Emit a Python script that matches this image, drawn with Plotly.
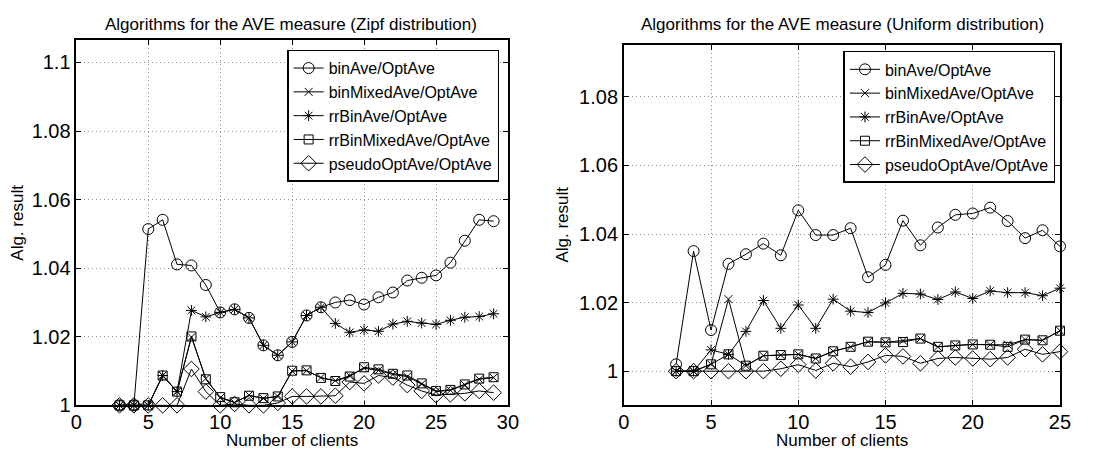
import plotly.graph_objects as go

W, H = 1107, 450

series_names = ["binAve/OptAve", "binMixedAve/OptAve", "rrBinAve/OptAve",
                "rrBinMixedAve/OptAve", "pseudoOptAve/OptAve"]

zipf_clients = [3, 4, 5, 6, 7, 8, 9, 10, 11, 12, 13, 14, 15, 16, 17, 18, 19, 20,
                21, 22, 23, 24, 25, 26, 27, 28, 29]
zipf_binAve = [1.000, 1.000, 1.0514, 1.0541, 1.0411, 1.0408, 1.0351, 1.0271, 1.0280,
               1.0255, 1.0175, 1.0146, 1.0185, 1.0262, 1.0286, 1.0300, 1.0307, 1.0294,
               1.0315, 1.0329, 1.0364, 1.0372, 1.0379, 1.0416, 1.0480, 1.0541, 1.0537]
zipf_binMixedAve = [1.0, 1.0, 1.0, 1.0087, 1.0040, 1.0199, 1.0078, 1.0022, 1.0008,
                    1.0030, 1.0020, 1.0026, 1.0100, 1.0101, 1.0081, 1.0072, 1.0086,
                    1.0108, 1.0102, 1.0090, 1.0084, 1.0062, 1.0040, 1.0044, 1.0060,
                    1.0076, 1.0081]
zipf_rrBinAve = [1.0, 1.0, 1.0, 1.0087, 1.0040, 1.0277, 1.0258, 1.0271, 1.0280, 1.0255,
                 1.0175, 1.0146, 1.0185, 1.0262, 1.0286, 1.0239, 1.0213, 1.0220, 1.0216,
                 1.0237, 1.0245, 1.0240, 1.0236, 1.0248, 1.0257, 1.0259, 1.0267]
zipf_rrBinMixedAve = [1.0, 1.0, 1.0, 1.0087, 1.0040, 1.0201, 1.0076, 1.0024, 1.0009,
                      1.0028, 1.0021, 1.0026, 1.0101, 1.0102, 1.0080, 1.0071, 1.0084,
                      1.0111, 1.0105, 1.0092, 1.0087, 1.0064, 1.0042, 1.0045, 1.0061,
                      1.0078, 1.0082]
zipf_pseudoOptAve = [1.0, 1.0, 1.0, 1.0, 1.0, 1.0106, 1.0040, 1.0, 1.0004, 1.0, 1.0,
                     1.0007, 1.0026, 1.0026, 1.0026, 1.0028, 1.0068, 1.0064, 1.0087,
                     1.0081, 1.0059, 1.0042, 1.0030, 1.0032, 1.0035, 1.0042, 1.0037]

unif_clients = [3, 4, 5, 6, 7, 8, 9, 10, 11, 12, 13, 14, 15, 16, 17, 18, 19, 20,
                21, 22, 23, 24, 25]
unif_binAve = [1.002, 1.035, 1.012, 1.0313, 1.0341, 1.0372, 1.0338, 1.0469, 1.0397,
               1.0397, 1.0417, 1.0274, 1.031, 1.0439, 1.0367, 1.0419, 1.0456, 1.046,
               1.0477, 1.0438, 1.0388, 1.0411, 1.0364]
unif_binMixedAve = [1.0, 1.0, 1.002, 1.021, 1.0016, 1.0045, 1.0047, 1.0049, 1.0037,
                    1.0058, 1.0071, 1.0086, 1.0084, 1.0089, 1.0095, 1.0071, 1.0075,
                    1.0078, 1.0077, 1.0077, 1.0092, 1.009, 1.0118]
unif_rrBinAve = [1.0, 1.0, 1.0062, 1.0049, 1.0116, 1.0206, 1.0125, 1.0193, 1.0125,
                 1.021, 1.0175, 1.0171, 1.0199, 1.0227, 1.0225, 1.0209, 1.0231, 1.0212,
                 1.0234, 1.0229, 1.0229, 1.022, 1.0242]
unif_rrBinMixedAve = [1.0, 1.0, 1.002, 1.0049, 1.0016, 1.0045, 1.0047, 1.0049, 1.0037,
                      1.0058, 1.0071, 1.0086, 1.0084, 1.0085, 1.0095, 1.0071, 1.0075,
                      1.0078, 1.0077, 1.0071, 1.0092, 1.009, 1.0118]
unif_pseudoOptAve = [1.0, 1.0, 1.0, 1.0, 1.0, 1.0, 1.0007, 1.0019, 1.0002, 1.0023,
                     1.0013, 1.0027, 1.0046, 1.0043, 1.0023, 1.0037, 1.004, 1.0037,
                     1.0035, 1.004, 1.0064, 1.0049, 1.0057]

zipf_y_ticks = [1, 1.02, 1.04, 1.06, 1.08, 1.1]
zipf_y_labels = ["1", "1.02", "1.04", "1.06", "1.08", "1.1"]
unif_y_ticks = [1, 1.02, 1.04, 1.06, 1.08]
unif_y_labels = ["1", "1.02", "1.04", "1.06", "1.08"]
zipf_x_ticks = [0, 5, 10, 15, 20, 25, 30]
unif_x_ticks = [0, 5, 10, 15, 20, 25]

FONT = "Liberation Sans, Arial, Helvetica, sans-serif"

symbols = ["circle-open", "x-thin-open", "asterisk-open", "square-open", "diamond-open"]
sizes = [11, 8, 9, 9, 12]


def px_x(p):
    return p / W


def px_y(p):
    return 1 - p / H


fig = go.Figure()

zipf_series = [zipf_binAve, zipf_binMixedAve, zipf_rrBinAve, zipf_rrBinMixedAve, zipf_pseudoOptAve]
unif_series = [unif_binAve, unif_binMixedAve, unif_rrBinAve, unif_rrBinMixedAve, unif_pseudoOptAve]

for i, name in enumerate(series_names):
    fig.add_trace(go.Scatter(
        x=zipf_clients, y=zipf_series[i], name=name, mode="lines+markers",
        line=dict(color="black", width=1),
        marker=dict(symbol=symbols[i], size=sizes[i], color="black",
                    line=dict(color="black", width=1)),
        cliponaxis=False, xaxis="x", yaxis="y", legend="legend"))
for i, name in enumerate(series_names):
    fig.add_trace(go.Scatter(
        x=unif_clients, y=unif_series[i], name=name, mode="lines+markers",
        line=dict(color="black", width=1),
        marker=dict(symbol=symbols[i], size=sizes[i], color="black",
                    line=dict(color="black", width=1)),
        cliponaxis=False, xaxis="x2", yaxis="y2", legend="legend2"))

axis_common = dict(
    showline=True, linecolor="black", linewidth=1.5, mirror="ticks",
    ticks="inside", ticklen=5, tickwidth=1, tickcolor="black",
    showgrid=True, gridcolor="#8c8c8c", griddash="1px,3px", gridwidth=1,
    zeroline=False, tickfont=dict(family=FONT, size=20, color="black"),
)
xaxis_extra = dict(ticklabelstandoff=-2)
ytitle = dict(text="Alg. result", font=dict(family=FONT, size=17, color="black"), standoff=6)

legend_common = dict(xanchor="right", yanchor="top",
                     bgcolor="white", bordercolor="black", borderwidth=1.5,
                     font=dict(family=FONT, size=16, color="black"),
                     tracegroupgap=0, itemwidth=30,
                     entrywidth=185, entrywidthmode="pixels")

fig.update_layout(
    width=W, height=H, margin=dict(l=0, r=0, t=0, b=0),
    paper_bgcolor="white", plot_bgcolor="white",
    font=dict(family=FONT, color="black"),
    xaxis=dict(domain=[px_x(63.3), px_x(501.7)], range=[0, 30],
               tickvals=zipf_x_ticks, anchor="y", **xaxis_extra, **axis_common),
    yaxis=dict(domain=[px_y(407.3), px_y(33.3)], range=[1, 1.1064],
               tickvals=zipf_y_ticks, ticktext=zipf_y_labels, anchor="x",
               title=ytitle, **axis_common),
    xaxis2=dict(domain=[px_x(619.3), px_x(1062.3)], range=[0, 25],
                tickvals=unif_x_ticks, anchor="y2", **xaxis_extra, **axis_common),
    yaxis2=dict(domain=[px_y(406.7), px_y(37.7)], range=[0.9902, 1.0952],
                tickvals=unif_y_ticks, ticktext=unif_y_labels, anchor="x2",
                title=ytitle, **axis_common),
    legend=dict(x=px_x(492.7), y=px_y(42.7), **legend_common),
    legend2=dict(x=px_x(1057.7), y=px_y(44), **legend_common),
    showlegend=True,
)

annos = [
    dict(text="Algorithms for the AVE measure (Zipf distribution)", x=px_x(281), y=px_y(17), size=17),
    dict(text="Algorithms for the AVE measure (Uniform distribution)", x=px_x(841.5), y=px_y(17), size=17),
    dict(text="Number of clients", x=px_x(282), y=px_y(443.5), size=17),
    dict(text="Number of clients", x=px_x(840.5), y=px_y(443.5), size=17),
]
for a in annos:
    fig.add_annotation(text=a["text"], x=a["x"], y=a["y"], xref="paper", yref="paper",
                       xanchor="center", yanchor="middle", showarrow=False,
                       font=dict(family=FONT, size=a["size"], color="black"))

fig.write_html("out.html")
